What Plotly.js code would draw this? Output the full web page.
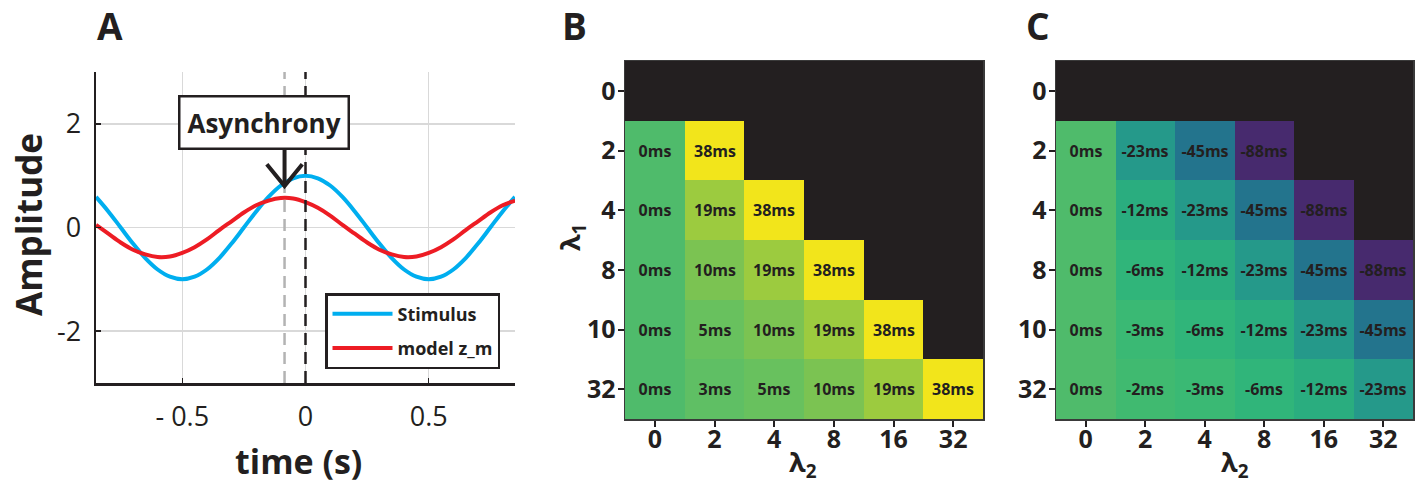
<!DOCTYPE html>
<html>
<head>
<meta charset="utf-8">
<script src="https://cdn.plot.ly/plotly-3.0.1.min.js"></script>
<style>html,body{margin:0;padding:0;background:#fff;}#chart{width:1421px;height:486px;}</style>
</head>
<body>
<div id="chart"></div>
<script>
// ---------- Panel A data ----------
const timeS = [-0.85,-0.80,-0.75,-0.70,-0.65,-0.60,-0.55,-0.50,-0.45,-0.40,-0.35,-0.30,-0.25,-0.20,-0.15,-0.10,-0.05,0.00,
               0.05,0.10,0.15,0.20,0.25,0.30,0.35,0.40,0.45,0.50,0.55,0.60,0.65,0.70,0.75,0.80,0.85];
const stimulus = [0.59,0.31,0.00,-0.31,-0.59,-0.81,-0.95,-1.00,-0.95,-0.81,-0.59,-0.31,0.00,0.31,0.59,0.81,0.95,1.00,
                  0.95,0.81,0.59,0.31,0.00,-0.31,-0.59,-0.81,-0.95,-1.00,-0.95,-0.81,-0.59,-0.31,0.00,0.31,0.59];
const modelZm = [0.05,-0.12,-0.29,-0.43,-0.52,-0.57,-0.56,-0.49,-0.38,-0.23,-0.05,0.12,0.29,0.43,0.52,0.57,0.56,0.49,
                 0.38,0.23,0.05,-0.12,-0.29,-0.43,-0.52,-0.57,-0.56,-0.49,-0.38,-0.23,-0.05,0.12,0.29,0.43,0.52];
const asynchronyT = -0.085;   // time of model peak (gray dashed line)
const arrowTipY = 0.80;
const xTickVals = [-0.5, 0, 0.5];
const xTickText = ['- 0.5', '0', '0.5'];
const yTickVals = [-2, 0, 2];
const yTickText = ['-2', '0', '2'];

// ---------- Panels B & C data ----------
const lambda2 = ['0','2','4','8','16','32'];
const lambda1 = ['0','2','4','8','10','32'];
const asyncB = [
  [null,null,null,null,null,null],
  [0,38,null,null,null,null],
  [0,19,38,null,null,null],
  [0,10,19,38,null,null],
  [0,5,10,19,38,null],
  [0,3,5,10,19,38]
];
const asyncC = [
  [null,null,null,null,null,null],
  [0,-23,-45,-88,null,null],
  [0,-12,-23,-45,-88,null],
  [0,-6,-12,-23,-45,-88],
  [0,-3,-6,-12,-23,-45],
  [0,-2,-3,-6,-12,-23]
];

const zMin = -88, zMax = 38;
function stop(v){ return (v - zMin) / (zMax - zMin); }
const cscale = [
  [stop(-88), '#472a6e'],
  [stop(-45), '#23748d'],
  [stop(-23), '#25998a'],
  [stop(-12), '#2aad7f'],
  [stop(-6),  '#30b57a'],
  [stop(-3),  '#3ab974'],
  [stop(-2),  '#40ba70'],
  [stop(0),   '#4fbb6b'],
  [stop(3),   '#5fbf64'],
  [stop(5),   '#68c15e'],
  [stop(10),  '#7bc352'],
  [stop(19),  '#9ccb3f'],
  [stop(38),  '#f2e51b']
];

const labelsOf = z => z.map(r => r.map(v => v === null ? '' : v + 'ms'));

const ink = '#231f20';
const FONT = 'Open Sans, Noto Sans, sans-serif';

const traces = [
  {x: timeS, y: stimulus, type: 'scatter', mode: 'lines', name: 'Stimulus',
   line: {color: '#00aeef', width: 4, shape: 'spline'}, xaxis: 'x', yaxis: 'y', legendgroup: 'a'},
  {x: timeS, y: modelZm, type: 'scatter', mode: 'lines', name: 'model z_m',
   line: {color: '#ed1c24', width: 4, shape: 'spline'}, xaxis: 'x', yaxis: 'y', legendgroup: 'b'},
  {z: asyncB, x: lambda2, y: lambda1, type: 'heatmap', xaxis: 'x2', yaxis: 'y2',
   colorscale: cscale, zmin: zMin, zmax: zMax, showscale: false, hoverongaps: false,
   text: labelsOf(asyncB), texttemplate: '%{text}',
   textfont: {family: FONT, size: 16, color: ink, weight: 'bold'}, showlegend: false},
  {z: asyncC, x: lambda2, y: lambda1, type: 'heatmap', xaxis: 'x3', yaxis: 'y3',
   colorscale: cscale, zmin: zMin, zmax: zMax, showscale: false, hoverongaps: false,
   text: labelsOf(asyncC), texttemplate: '%{text}',
   textfont: {family: FONT, size: 16, color: ink, weight: 'bold'}, showlegend: false}
];

const heatX = dom => ({domain: dom, type: 'category', showline: true, mirror: true, linecolor: '#3a3a3a', linewidth: 1.5,
  ticks: 'outside', ticklen: 6, tickwidth: 2, tickcolor: ink, showgrid: false, zeroline: false,
  ticklabelstandoff: -9,
  tickfont: {family: FONT, size: 25, color: ink, weight: 'bold'}, fixedrange: true});
const heatY = (dom, anchor) => ({domain: dom, anchor: anchor, type: 'category', autorange: 'reversed',
  showline: true, mirror: true, linecolor: '#3a3a3a', linewidth: 1.5,
  ticks: 'outside', ticklen: 6, tickwidth: 2, tickcolor: ink, showgrid: false, zeroline: false,
  ticklabelstandoff: -3,
  tickfont: {family: FONT, size: 25, color: ink, weight: 'bold'}, fixedrange: true});

const yDomHeat = [1 - 419/486, 1 - 61/486];

function lab(text, px, py, size, extra) {
  return Object.assign({text: text, xref: 'paper', yref: 'paper', x: px/1421, y: 1 - py/486,
    xanchor: 'center', yanchor: 'middle', showarrow: false,
    font: {family: FONT, size: size, color: ink, weight: 'bold'}}, extra || {});
}

const layout = {
  width: 1421, height: 486,
  margin: {l: 0, r: 0, t: 0, b: 0},
  paper_bgcolor: '#ffffff', plot_bgcolor: 'rgba(0,0,0,0)',
  font: {family: FONT, color: ink},
  showlegend: true,
  legend: {x: 500/1421, xanchor: 'right', y: 1 - 293/486, yanchor: 'top',
    bordercolor: ink, borderwidth: 2.5, bgcolor: '#ffffff', itemwidth: 60, tracegroupgap: 8,
    font: {family: FONT, size: 18, color: ink, weight: 'bold'}},
  xaxis: {domain: [96/1421, 515/1421], anchor: 'y', range: [-0.85, 0.85],
    tickvals: xTickVals, ticktext: xTickText, showgrid: true, gridcolor: '#d9d9d9', gridwidth: 1.5,
    zeroline: false, showline: true, linecolor: ink, linewidth: 2.5, ticks: 'inside', ticklen: 5,
    tickwidth: 1.5, tickcolor: ink, ticklabelstandoff: 8,
    tickfont: {family: FONT, size: 27, color: ink}},
  yaxis: {domain: [1 - 383/486, 1 - 72/486], anchor: 'x', range: [-3, 3],
    tickvals: yTickVals, ticktext: yTickText, showgrid: true, gridcolor: '#d9d9d9', gridwidth: 1.5,
    zeroline: false, showline: true, linecolor: ink, linewidth: 2.5, ticks: 'inside', ticklen: 5,
    tickwidth: 1.5, tickcolor: ink, ticklabelstandoff: 7,
    tickfont: {family: FONT, size: 27, color: ink}},
  xaxis2: Object.assign(heatX([625/1421, 983/1421]), {anchor: 'y2'}),
  yaxis2: heatY(yDomHeat, 'x2'),
  xaxis3: Object.assign(heatX([1056/1421, 1413/1421]), {anchor: 'y3'}),
  yaxis3: heatY(yDomHeat, 'x3'),
  shapes: [
    {type: 'rect', xref: 'x2 domain', yref: 'y2 domain', x0: 0, x1: 1, y0: 0, y1: 1,
     fillcolor: ink, line: {width: 0}, layer: 'below'},
    {type: 'rect', xref: 'x3 domain', yref: 'y3 domain', x0: 0, x1: 1, y0: 0, y1: 1,
     fillcolor: ink, line: {width: 0}, layer: 'below'},
    {type: 'line', xref: 'x', yref: 'y domain', x0: asynchronyT, x1: asynchronyT, y0: 0, y1: 1,
     line: {color: '#b3b3b3', width: 2.5, dash: '12px,7px'}},
    {type: 'line', xref: 'x', yref: 'y domain', x0: 0, x1: 0, y0: 0, y1: 1,
     line: {color: ink, width: 2.5, dash: '12px,7px'}},
    {type: 'line', xref: 'x', yref: 'y', x0: asynchronyT, x1: asynchronyT, y0: 1.5, y1: arrowTipY + 0.05,
     line: {color: ink, width: 4}},
    {type: 'path', xref: 'x', yref: 'y',
     path: 'M' + (asynchronyT - 0.072) + ',' + (arrowTipY + 0.42) + ' L' + asynchronyT + ',' + arrowTipY +
           ' L' + (asynchronyT + 0.072) + ',' + (arrowTipY + 0.42),
     line: {color: ink, width: 4}}
  ],
  annotations: [
    {text: 'Asynchrony', xref: 'x', yref: 'y', x: -0.17, y: 2.03, xanchor: 'center', yanchor: 'middle',
     showarrow: false, font: {family: FONT, size: 26, color: ink, weight: 'bold'}, bgcolor: '#ffffff',
     bordercolor: ink, borderwidth: 2.5, borderpad: 7},
    lab('Amplitude', 28, 225, 35, {textangle: -90}),
    lab('time (s)', 298, 461, 34),
    lab('A', 110, 26, 37),
    lab('B', 574, 26, 37),
    lab('C', 1038, 26, 37),
    lab('λ<sub>1</sub>', 571, 238, 27, {textangle: -90}),
    lab('λ<sub>2</sub>', 803, 463, 27),
    lab('λ<sub>2</sub>', 1235, 463, 27)
  ]
};

Plotly.newPlot('chart', traces, layout, {displayModeBar: false, staticPlot: true});
</script>
</body>
</html>
